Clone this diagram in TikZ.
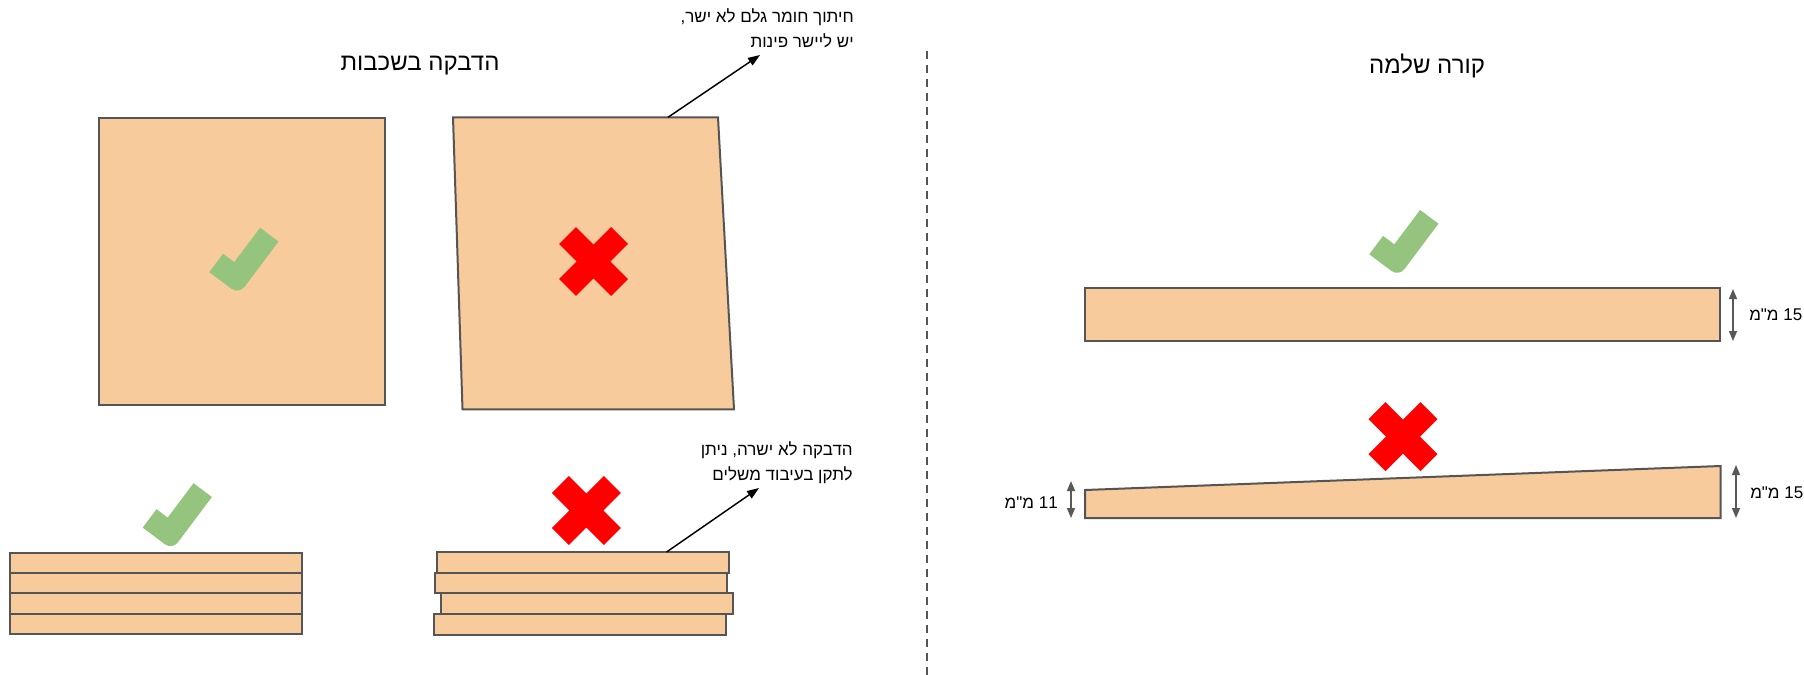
\documentclass[tikz,border=0pt]{standalone}
\usepackage{fontspec}
\setmainfont{Liberation Sans}
\newfontfamily\hebfont[Script=Hebrew]{Liberation Sans}
\TeXXeTstate=1
\usetikzlibrary{arrows.meta}
\definecolor{woodfill}{HTML}{F8CB9C}
\definecolor{woodline}{HTML}{555555}
\definecolor{okgreen}{HTML}{95C47E}
\definecolor{dimgrey}{HTML}{595959}
\definecolor{badred}{HTML}{FF0000}
\tikzset{
  wood/.style={fill=woodfill, draw=woodline, line width=1.5pt, line join=miter},
  woodbox/.style={wood, rectangle, inner sep=0pt, outer sep=0pt},
  titletext/.style={font=\hebfont\fontsize{18}{22}\selectfont, inner sep=0pt},
  notetext/.style={font=\hebfont\fontsize{12.75}{18.75}\selectfont, align=right, inner sep=0pt},
  dimtext/.style={font=\hebfont\fontsize{12.75}{15}\selectfont, inner sep=0pt},
  dimarrow/.style={draw=dimgrey, line width=1.1pt, {Triangle[length=7.5pt,width=6pt]}-{Triangle[length=7.5pt,width=6pt]}},
  callout/.style={draw=black, line width=1.1pt, -{Triangle[length=9pt,width=6.5pt]}},
  divider/.style={draw=woodline, line width=1.3pt, dash pattern=on 6pt off 4.5pt},
  checkmark/.pic={
    \begin{scope}[x=0.75pt,y=0.75pt,rotate=53.13]
      \fill[okgreen] (0,20) [rounded corners=7pt] -- (0,0) -- (20,0) [sharp corners] -- (66,0) -- (66,23) -- (23,23) -- (23,37) -- (0,37) -- cycle;
    \end{scope}
  },
  crossmark/.pic={
    \draw[badred, line width=18pt] (-26,-26) -- (26,26) (-26,26) -- (26,-26);
  }
}
\begin{document}
\begin{tikzpicture}[x=0.75pt, y=-0.75pt]
\useasboundingbox (0,0) rectangle (1804,675);

% titles
\node[titletext] (t1) at (420,66) {\beginR הדבקה בשכבות\endR};
\node[titletext] (t2) at (1427,66) {\beginR קורה שלמה\endR};

% divider
\coordinate (dtop) at (927,51);
\coordinate (dbot) at (927,676);
\draw[divider] (dtop) -- (dbot);

% ---- left half: glued layers ----
% good square block
\node[woodbox, minimum width=214.9pt, minimum height=215pt] (sq) at (242.2,261.6) {};
\pic at (238.9,294.3) {checkmark};

% skewed block
\coordinate (pa) at (453,117.3);
\coordinate (pb) at (718,117.3);
\coordinate (pc) at (734,409.3);
\coordinate (pd) at (462.5,409.3);
\draw[wood] (pa) -- (pb) -- (pc) -- (pd) -- cycle;
\pic at (593.5,261.5) {crossmark};

\coordinate (c1s) at (668,117.3);
\coordinate (c1e) at (760,55);
\draw[callout] (c1s) -- (c1e);
\node[notetext, anchor=east] (n1) at (854,28.5) {\beginR חיתוך חומר גלם לא ישר,\endR\\\beginR יש ליישר פינות\endR};

% good stack
\node[woodbox, minimum width=219.4pt, minimum height=15.15pt] (L1) at (156.2,563.1) {};
\node[woodbox, minimum width=219.4pt, minimum height=15.15pt] (L2) at (156.2,583.3) {};
\node[woodbox, minimum width=219.4pt, minimum height=15.15pt] (L3) at (156.2,603.5) {};
\node[woodbox, minimum width=219.4pt, minimum height=15.15pt] (L4) at (156.2,623.7) {};
\pic at (172.3,549.8) {checkmark};

% bad stack
\node[woodbox, minimum width=219pt, minimum height=15.5pt] (S1) at (583.3,562.3) {};
\node[woodbox, minimum width=219pt, minimum height=15.5pt] (S2) at (581.2,583.0) {};
\node[woodbox, minimum width=219pt, minimum height=15.5pt] (S3) at (586.7,603.7) {};
\node[woodbox, minimum width=219pt, minimum height=15.5pt] (S4) at (580.0,624.4) {};
\pic at (586.3,510.5) {crossmark};

\coordinate (c2e) at (759,488);
\draw[callout] ([xshift=172pt]S1.north west) -- (c2e);
\node[notetext, anchor=east] (n2) at (853,463) {\beginR הדבקה לא ישרה, ניתן\endR\\\beginR לתקן בעיבוד משלים\endR};

% ---- right half: whole beam ----
\node[woodbox, minimum width=476.6pt, minimum height=39.5pt] (b1) at (1402.75,314.65) {};
\pic at (1398.9,276.5) {checkmark};
\coordinate (d1a) at (1733,289);
\coordinate (d1b) at (1733,341);
\draw[dimarrow] (d1a) -- (d1b);
\node[dimtext, anchor=west] (l1) at (1749,315) {\beginR 15 מ"מ\endR};

% tapered beam
\coordinate (ta) at (1085,490);
\coordinate (tb) at (1720.5,466);
\coordinate (tc) at (1720.5,518);
\coordinate (td) at (1085,518);
\draw[wood] (ta) -- (tb) -- (tc) -- (td) -- cycle;
\pic at (1403,436.6) {crossmark};
\coordinate (d2a) at (1736,465);
\coordinate (d2b) at (1736,518);
\draw[dimarrow] (d2a) -- (d2b);
\node[dimtext, anchor=west] (l2) at (1750,493) {\beginR 15 מ"מ\endR};
\coordinate (d3a) at (1071,481);
\coordinate (d3b) at (1071,518);
\draw[dimarrow] (d3a) -- (d3b);
\node[dimtext, anchor=east] (l3) at (1058,503) {\beginR 11 מ"מ\endR};
\end{tikzpicture}
\end{document}
